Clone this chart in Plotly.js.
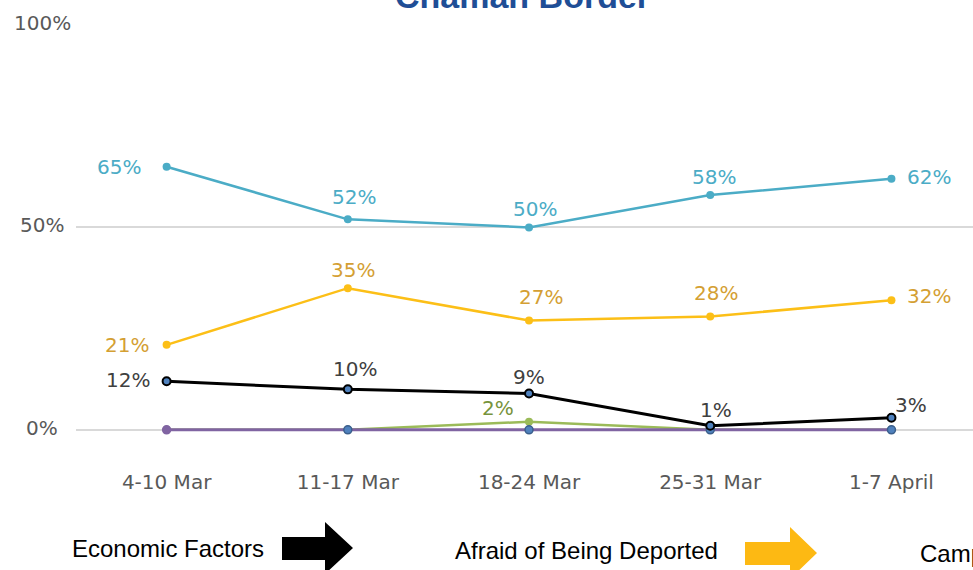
<!DOCTYPE html>
<html><head><meta charset="utf-8">
<script src="https://cdn.plot.ly/plotly-3.0.1.min.js"></script>
<style>html,body{margin:0;padding:0;background:#fff;overflow:hidden}#c{width:973px;height:570px}</style>
</head><body><div id="c"></div>
<script>
const categories = ['4-10 Mar', '11-17 Mar', '18-24 Mar', '25-31 Mar', '1-7 April'];
const seriesBlue   = [0.65, 0.52, 0.50, 0.58, 0.62];
const seriesYellow = [0.21, 0.35, 0.27, 0.28, 0.32];
const seriesBlack  = [0.12, 0.10, 0.09, 0.01, 0.03];
const seriesGreen  = [0.00, 0.00, 0.02, 0.00, 0.00];
const seriesPurple = [0.00, 0.00, 0.00, 0.00, 0.00];
const yTickVals = [0, 0.5, 1];
const yTickText = ['0%', '50%', '100%'];
const legendLabels = ['Economic Factors', 'Afraid of Being Deported', 'Camp'];
const titleText = 'Chaman Border';

const pct = v => Math.round(v * 100) + '%';
const xIdx = categories.map((c, i) => i);
const labelFont = 'DejaVu Sans, sans-serif';
const narrowFont = 'Liberation Sans Narrow, Arial Narrow, sans-serif';

// plot area geometry (pixels)
const L = 76, R = 0, T = 25, B = 128, W = 973, H = 570;
const pw = W - L - R, ph = H - T - B;
const px = x => (x - L) / pw;
const py = y => (H - B - y) / ph;

function arrowPath(x0, bodyTop, bodyBot, neck, headTop, tipX, tipY, headBot) {
  return 'M' + px(x0) + ',' + py(bodyTop) + ' L' + px(neck) + ',' + py(bodyTop) +
    ' L' + px(neck) + ',' + py(headTop) + ' L' + px(tipX) + ',' + py(tipY) +
    ' L' + px(neck) + ',' + py(headBot) + ' L' + px(neck) + ',' + py(bodyBot) +
    ' L' + px(x0) + ',' + py(bodyBot) + ' Z';
}

const traces = [
  {
    x: xIdx, y: seriesGreen, mode: 'lines+markers', cliponaxis: false,
    line: {color: '#9bbb59', width: 2.5},
    marker: {size: 8, color: '#9bbb59'},
    hoverinfo: 'skip'
  },
  {
    x: xIdx, y: seriesPurple, mode: 'lines+markers', cliponaxis: false,
    line: {color: '#8064a2', width: 3},
    marker: {size: 8, color: ['#8064a2', '#4f81bd', '#4f81bd', '#4f81bd', '#4f81bd'],
             line: {color: ['#8064a2', '#3b5f8c', '#3b5f8c', '#3b5f8c', '#3b5f8c'], width: 1.5}},
    hoverinfo: 'skip'
  },
  {
    x: xIdx, y: seriesBlack, mode: 'lines+markers', cliponaxis: false,
    line: {color: '#000000', width: 3},
    marker: {size: 8, color: '#4f81bd', line: {color: '#000000', width: 2}},
    hoverinfo: 'skip'
  },
  {
    x: xIdx, y: seriesYellow, mode: 'lines+markers', cliponaxis: false,
    line: {color: '#fcbf17', width: 2.5},
    marker: {size: 8, color: '#fcbf17'},
    hoverinfo: 'skip'
  },
  {
    x: xIdx, y: seriesBlue, mode: 'lines+markers', cliponaxis: false,
    line: {color: '#4bacc6', width: 2.5},
    marker: {size: 8, color: '#4bacc6'},
    hoverinfo: 'skip'
  }
];

// data label offsets (pixels) per series
const labelSpecs = [
  {vals: seriesBlue, color: '#4bacc6', dx: [-48, 6, 6, 4, 38], dy: [0, 22, 18, 18, 2], show: [1,1,1,1,1]},
  {vals: seriesYellow, color: '#d49f33', dx: [-40, 5, 12, 6, 38], dy: [0, 18, 24, 24, 4], show: [1,1,1,1,1]},
  {vals: seriesBlack, color: '#404040', dx: [-39, 7, 0, 6, 20], dy: [1, 20, 16, 16, 13], show: [1,1,1,1,1]},
  {vals: seriesGreen, color: '#77933c', dx: [0, 0, -31, 0, 0], dy: [0, 0, 14, 0, 0], show: [0,0,1,0,0]}
];

const annotations = [];
labelSpecs.forEach(s => {
  s.vals.forEach((v, i) => {
    if (!s.show[i]) return;
    annotations.push({
      xref: 'x', yref: 'y', x: i, y: v, xshift: s.dx[i], yshift: s.dy[i],
      xanchor: 'center', yanchor: 'middle', text: pct(v), showarrow: false,
      font: {family: labelFont, size: 20, color: s.color}
    });
  });
});

yTickVals.forEach((v, i) => annotations.push({
  xref: 'paper', yref: 'y', x: px(42), y: v, yshift: 2, xanchor: 'center', yanchor: 'middle',
  text: yTickText[i], showarrow: false,
  font: {family: labelFont, size: 20, color: '#595959'}
}));
annotations.push(
  {xref: 'paper', yref: 'paper', x: px(522), y: py(17), xanchor: 'center', yanchor: 'bottom',
   text: '<b>' + titleText + '</b>', showarrow: false,
   font: {family: narrowFont, size: 34, color: '#1f4e96'}},
  {xref: 'paper', yref: 'paper', x: px(70), y: py(548), xanchor: 'left', yanchor: 'middle',
   text: legendLabels[0], showarrow: false,
   font: {family: narrowFont, size: 24, color: '#000'}},
  {xref: 'paper', yref: 'paper', x: px(453), y: py(550), xanchor: 'left', yanchor: 'middle',
   text: legendLabels[1], showarrow: false,
   font: {family: narrowFont, size: 24, color: '#000'}},
  {xref: 'paper', yref: 'paper', x: px(918), y: py(553), xanchor: 'left', yanchor: 'middle',
   text: legendLabels[2], showarrow: false,
   font: {family: narrowFont, size: 24, color: '#000'}}
);

const layout = {
  width: W, height: H,
  margin: {l: L, r: R, t: T, b: B, pad: 0},
  paper_bgcolor: '#ffffff', plot_bgcolor: '#ffffff',
  showlegend: false,
  xaxis: {
    type: 'linear', range: [-0.5, 4.45],
    tickmode: 'array', tickvals: xIdx, ticktext: categories,
    showgrid: false, zeroline: false, showline: false, ticks: '',
    ticklabelstandoff: 26,
    tickfont: {family: labelFont, size: 20, color: '#595959'}
  },
  yaxis: {
    range: [-0.03, 1.0],
    tickmode: 'array', tickvals: yTickVals, showticklabels: false,
    showgrid: true, gridcolor: '#d9d9d9', gridwidth: 2,
    zeroline: false, showline: false, ticks: ''
  },
  annotations: annotations,
  shapes: [
    {type: 'path', xref: 'paper', yref: 'paper',
     path: arrowPath(282, 537, 560, 325, 522, 353, 548, 574),
     fillcolor: '#000000', line: {width: 0}},
    {type: 'path', xref: 'paper', yref: 'paper',
     path: arrowPath(745, 542, 565, 790, 527, 817, 553, 579),
     fillcolor: '#fdb913', line: {width: 0}}
  ]
};

Plotly.newPlot('c', traces, layout, {displayModeBar: false, staticPlot: true});
</script></body></html>
